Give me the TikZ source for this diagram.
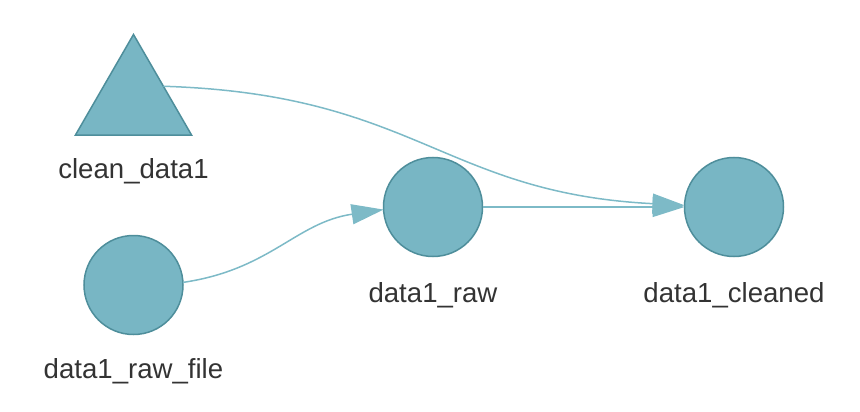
\documentclass[tikz,border=0pt]{standalone}
\usepackage{fontspec}
\setmainfont{Liberation Sans}
\usetikzlibrary{shapes.geometric,arrows.meta}
\definecolor{nodefill}{HTML}{78B6C4}
\definecolor{nodeline}{HTML}{4E8E9B}
\definecolor{edgecol}{HTML}{7DBAC7}
\definecolor{labelcol}{HTML}{333333}
\begin{document}
\begin{tikzpicture}[x=1pt,y=-1pt,
  target/.style={circle,draw=nodeline,fill=nodefill,line width=1.5pt,minimum size=99pt,inner sep=0pt,outer sep=0pt},
  func/.style={regular polygon,regular polygon sides=3,draw=nodeline,fill=nodefill,line width=1.5pt,minimum size=134pt,inner sep=0pt,outer sep=0pt},
  lbl/.style={text=labelcol,font=\fontsize{27.6}{32}\selectfont,anchor=base,inner sep=0pt},
  link/.style={draw=edgecol,line width=1.5pt,-{Triangle[length=32pt,width=20pt]}}]
\useasboundingbox (0,0) rectangle (860,412);
\node[func] (clean) at (133.5,101.5) {};
\node[target] (rawfile) at (133.5,285) {};
\node[target] (raw) at (433,207) {};
\node[target] (cleaned) at (734,207) {};
\node[lbl] (cleanlbl) at (133.5,178) {clean\_data1};
\node[lbl] (rawfilelbl) at (133.5,378.5) {data1\_raw\_file};
\node[lbl] (rawlbl) at (433,302) {data1\_raw};
\node[lbl] (cleanedlbl) at (734,302) {data1\_cleaned};
\draw[link] (clean.27) .. controls +(252.5,7.8) and +(-241.7,-12.2) .. (cleaned.178.6);
\draw[link] (rawfile.3.85) .. controls +(87.7,-12.85) and +(-87.7,12.85) .. (raw.183.85);
\draw[link] (raw) -- (cleaned);
\end{tikzpicture}
\end{document}
